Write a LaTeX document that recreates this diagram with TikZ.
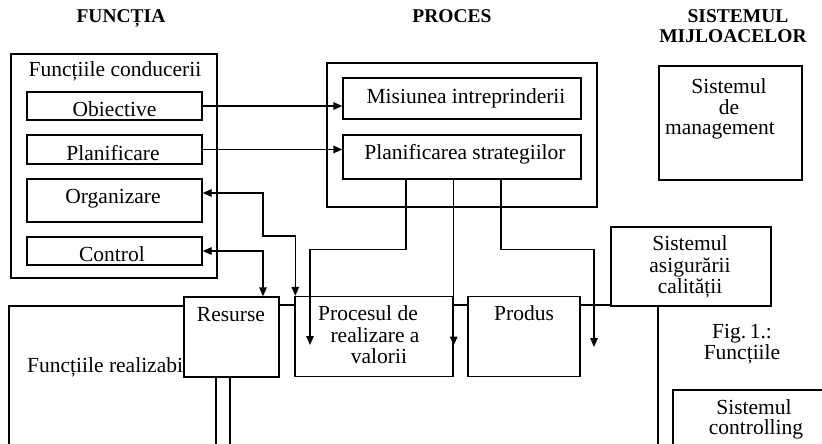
\documentclass[tikz,border=0pt]{standalone}
\usepackage{fontspec}
\setmainfont{Liberation Serif}
\usetikzlibrary{arrows.meta}
\begin{document}
\begin{tikzpicture}[x=1pt,y=-1pt,
  box/.style={draw, fill=white, line width=1.4pt, inner sep=0pt},
  rect/.style 2 args={minimum width=#1pt, minimum height=#2pt},
  txt/.style={inner sep=0pt, anchor=base, font=\fontsize{21.5}{21.5}\selectfont},
  head/.style={inner sep=0pt, anchor=base, font=\fontsize{19.5}{19.5}\selectfont\bfseries},
  link/.style={line width=1.4pt},
  tip/.tip={Triangle[length=9pt,width=7.5pt]},
  arr/.style={link, -tip},
  dbl/.style={link, tip-tip},
]
\useasboundingbox (0,0) rectangle (822,444);
\clip (0,0) rectangle (822,444);

% column headings
\node[head] (h1) at (121,23) {FUNCȚIA};
\node[head] (h2) at (452,23) {PROCES};
\node[head] (h3a) at (738,23) {SISTEMUL};
\node[head] (h3b) at (733,43) {MIJLOACELOR};

% management functions
\node[box, rect={206}{224}] (cond) at (114,166) {};
\node[txt] (cond-t) at (115,77) {Funcțiile conducerii};
\node[box, rect={175}{28}] (ob) at (114.5,106) {};
\node[txt] (ob-t) at (114.5,117) {Obiective};
\node[box, rect={175}{29}] (plan) at (114.5,149.5) {};
\node[txt] (plan-t) at (113,160) {Planificare};
\node[box, rect={175}{43}] (org) at (114.5,200.5) {};
\node[txt] (org-t) at (113,203.5) {Organizare};
\node[box, rect={175}{28}] (ctrl) at (114.5,251) {};
\node[txt] (ctrl-t) at (112,261) {Control};

% process block
\node[box, rect={270}{144}] (pframe) at (462,135) {};
\node[box, rect={238}{41}] (mis) at (462,98.5) {};
\node[txt] (mis-t) at (466,103) {Misiunea intreprinderii};
\node[box, rect={238}{44}] (strat) at (462,157) {};
\node[txt] (strat-t) at (465,159) {Planificarea strategiilor};

% management system
\node[box, rect={143}{114}] (mgmt) at (730.5,123) {};
\node[txt] (mgmt-t1) at (729,93) {Sistemul};
\node[txt] (mgmt-t2) at (729,114) {de};
\node[txt] (mgmt-t3) at (720,134) {management};

% quality assurance system
\node[box, rect={160}{79}] (asig) at (691,266.5) {};
\node[txt] (asig-t1) at (690,250) {Sistemul};
\node[txt] (asig-t2) at (690,272) {asigurării};
\node[txt] (asig-t3) at (690,293) {calității};

% realisation functions
\node[box, rect={207}{170}] (real) at (112.5,391) {};
\node[txt, anchor=base west] (real-t) at (27,372) {Funcțiile realizabi};
\node[box, rect={95}{80}] (res) at (231.5,337) {};
\node[txt] (res-t) at (231,321) {Resurse};
\node[box, rect={158}{80}] (val) at (374,336.5) {};
\node[txt] (val-t1) at (368,320) {Procesul de};
\node[txt] (val-t2) at (375,342) {realizare a};
\node[txt] (val-t3) at (379,363) {valorii};
\node[box, rect={112}{80}] (prod) at (524,336.5) {};
\node[txt] (prod-t) at (524,320) {Produs};

% caption
\node[txt] (fig1) at (742,338) {Fig.\,1.:};
\node[txt] (fig2) at (742,359) {Funcțiile};

% controlling system
\node[box, rect={167}{90}] (ctl) at (756.5,435) {};
\node[txt] (ctl-t1) at (754,414) {Sistemul};
\node[txt] (ctl-t2) at (756,434) {controlling};

% chain of the value process
\coordinate (rail) at (0,305);
\draw[link] (res.east |- rail) -- (val.west |- rail);
\draw[link] (val.east |- rail) -- (prod.west |- rail);
\draw[link] (prod.east |- rail) -- (asig.west |- rail);
\draw[link] ([xshift=-33pt]asig.south) -- ++(0,160);
\draw[link] ([xshift=-1.5pt]res.south) -- ++(0,90);

% functions to process
\draw[arr] (ob.east) -- (ob.east -| mis.west);
\draw[arr] (plan.east) -- (plan.east -| strat.west);
\draw[dbl] ([yshift=7.5pt]org.east) -| (263,236) -| ([xshift=1pt]val.north west);
\draw[dbl] (ctrl.east) -| ([xshift=31.5pt]res.north);

% strategy to realisation
\coordinate (pa) at (310,345);
\coordinate (pc) at (594,347);
\draw[arr] ([xshift=-56pt]strat.south) -- ++(0,70) -| (pa);
\draw[arr] (strat.south -| val.east) -- ([yshift=-9pt]val.east);
\draw[arr] ([xshift=39pt]strat.south) -- ++(0,70) -| (pc);
\end{tikzpicture}
\end{document}
